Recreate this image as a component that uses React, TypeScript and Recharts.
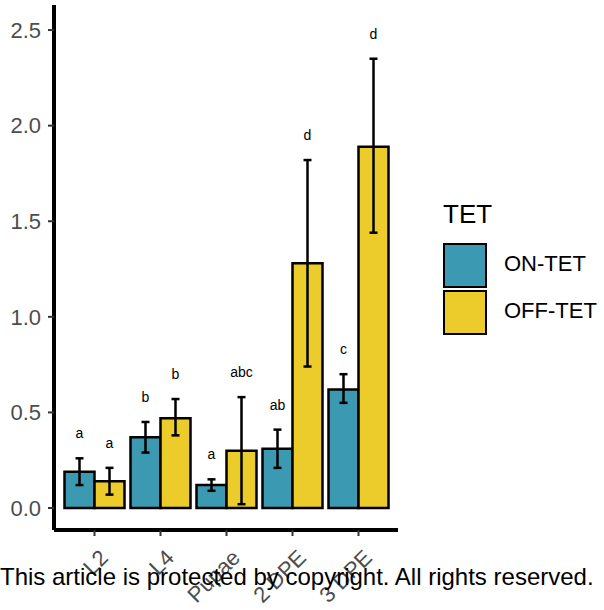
import React from 'react';
import { BarChart, Bar, XAxis, YAxis, ErrorBar, LabelList } from 'recharts';

const categories = ['L2', 'L4', 'Pupae', '2 DPE', '3 DPE'];
const onMean = [0.19, 0.37, 0.12, 0.31, 0.62];
const onLow = [0.12, 0.29, 0.09, 0.21, 0.55];
const onHigh = [0.26, 0.45, 0.15, 0.41, 0.70];
const offMean = [0.14, 0.47, 0.30, 1.28, 1.89];
const offLow = [0.07, 0.38, 0.02, 0.74, 1.44];
const offHigh = [0.21, 0.57, 0.58, 1.82, 2.35];
const onLetters = ['a', 'b', 'a', 'ab', 'c'];
const offLetters = ['a', 'b', 'abc', 'd', 'd'];
const yTicks = [0, 0.5, 1.0, 1.5, 2.0, 2.5];
const legendTitle = 'TET';
const seriesNames = ['ON-TET', 'OFF-TET'];

const ON_COLOR = '#3B9AB2';
const OFF_COLOR = '#EBCC2A';
const FONT = '"Liberation Sans", Arial, sans-serif';

const data = categories.map((c, i) => ({
  cat: c,
  on: onMean[i],
  onErr: [onMean[i] - onLow[i], onHigh[i] - onMean[i]],
  off: offMean[i],
  offErr: [offMean[i] - offLow[i], offHigh[i] - offMean[i]],
}));

const makeLetter = (means: number[], highs: number[], letters: string[]) => (props: any) => {
  const { x, y, width, height, index } = props;
  const v = means[index];
  const pxPerUnit = height / v;
  const errTop = y - (highs[index] - v) * pxPerUnit;
  return (
    <text
      x={x + width / 2}
      y={errTop - 20}
      textAnchor="middle"
      fontSize={14}
      fontFamily={FONT}
      fill="#000"
    >
      {letters[index]}
    </text>
  );
};

const XTick = (props: any) => {
  const { x, y, payload } = props;
  return (
    <text
      transform={`translate(${x + 15},${y + 21}) rotate(-45)`}
      textAnchor="end"
      fontSize={22}
      fontFamily={FONT}
      fill="#4D4D4D"
    >
      {payload.value}
    </text>
  );
};

const LegendBox = () => (
  <div style={{ position: 'absolute', left: 443, top: 199, width: 170, height: 150, fontFamily: FONT, color: '#000' }}>
    <div style={{ position: 'absolute', left: 0, top: 0, fontSize: 26, lineHeight: '30px' }}>{legendTitle}</div>
    {[ON_COLOR, OFF_COLOR].map((color, i) => (
      <div key={seriesNames[i]}>
        <div
          style={{
            position: 'absolute',
            left: 0,
            top: 44 + i * 47,
            width: 40,
            height: 41,
            background: color,
            border: '2px solid #000',
          }}
        />
        <div
          style={{
            position: 'absolute',
            left: 61,
            top: 44 + i * 47 + 8,
            fontSize: 22,
            lineHeight: '26px',
            whiteSpace: 'nowrap',
          }}
        >
          {seriesNames[i]}
        </div>
      </div>
    ))}
  </div>
);

export default function App() {
  return (
    <div style={{ position: 'absolute', left: 0, top: 0, width: 604, height: 610, background: '#fff', overflow: 'hidden' }}>
      <BarChart
        width={604}
        height={610}
        data={data}
        margin={{ top: 5, right: 206, bottom: 0, left: 0 }}
        barCategoryGap={3}
        barGap={0}
      >
        <XAxis
          dataKey="cat"
          type="category"
          padding={{ left: 7.5, right: 6.5 }}
          axisLine={{ stroke: '#000', strokeWidth: 4 }}
          tickLine={{ stroke: '#333', strokeWidth: 2 }}
          tickSize={6}
          tick={<XTick />}
          interval={0}
          height={80}
        />
        <YAxis
          type="number"
          domain={[-0.115, 2.631]}
          ticks={yTicks}
          allowDataOverflow
          width={54}
          axisLine={{ stroke: '#000', strokeWidth: 4 }}
          tickLine={{ stroke: '#333', strokeWidth: 2 }}
          tickSize={6}
          tickMargin={7}
          tickFormatter={(v: number) => v.toFixed(1)}
          tick={{ fontSize: 22, fill: '#4D4D4D', fontFamily: FONT }}
        />
        <Bar dataKey="on" name={seriesNames[0]} fill={ON_COLOR} stroke="#000" strokeWidth={2.5} isAnimationActive={false}>
          <ErrorBar dataKey="onErr" width={4} stroke="#000" strokeWidth={2.5} />
          <LabelList dataKey="on" content={makeLetter(onMean, onHigh, onLetters)} />
        </Bar>
        <Bar dataKey="off" name={seriesNames[1]} fill={OFF_COLOR} stroke="#000" strokeWidth={2.5} isAnimationActive={false}>
          <ErrorBar dataKey="offErr" width={4} stroke="#000" strokeWidth={2.5} />
          <LabelList dataKey="off" content={makeLetter(offMean, offHigh, offLetters)} />
        </Bar>
      </BarChart>
      <LegendBox />
      <div
        style={{
          position: 'absolute',
          left: 0,
          top: 563,
          fontFamily: FONT,
          fontSize: 24,
          lineHeight: '28px',
          color: '#000',
          whiteSpace: 'nowrap',
        }}
      >
        This article is protected by copyright. All rights reserved.
      </div>
    </div>
  );
}
